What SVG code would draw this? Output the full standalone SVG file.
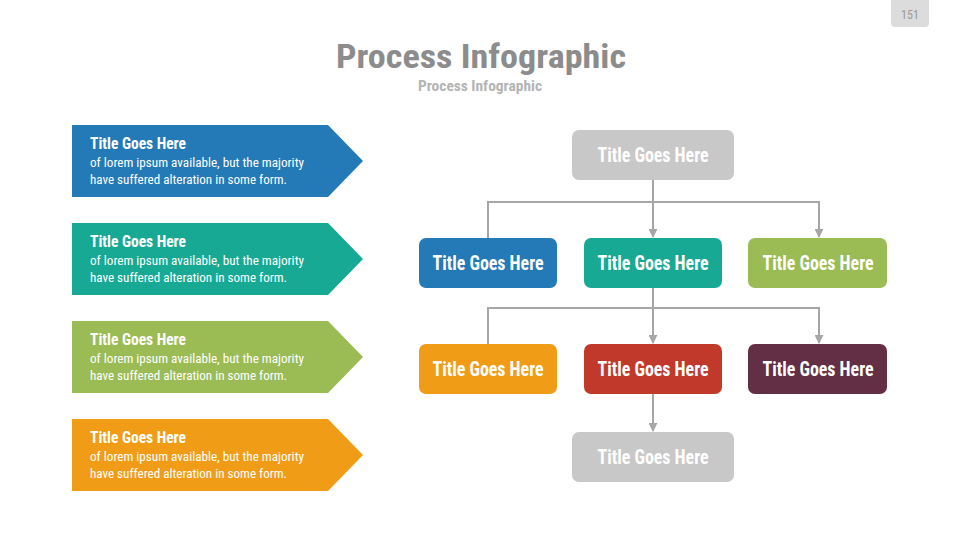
<svg xmlns="http://www.w3.org/2000/svg" width="960" height="540" viewBox="0 0 960 540">
<style>
text{font-family:"Roboto Condensed",Roboto,"Liberation Sans",sans-serif}
.nt{font-size:20px;font-weight:bold;fill:#fff;text-anchor:middle}
.at{font-size:16px;font-weight:bold;fill:#fff}
.ab{font-size:12.5px;fill:#fff}
.cn{stroke:#a6a6a6;stroke-width:2;fill:none}
</style>
<defs>
<marker id="ah" viewBox="0 0 10 10" refX="9" refY="5" markerWidth="4.5" markerHeight="4.5" orient="auto" markerUnits="strokeWidth">
<path d="M0,0 L10,5 L0,10 z" fill="#a6a6a6"/>
</marker>
</defs>
<rect width="960" height="540" fill="#fff"/>
<g id="page">
<rect x="891" y="-4" width="38" height="31" rx="4" fill="#dcdcdc"/>
<text x="910" y="19" font-size="12" fill="#999" text-anchor="middle">151</text>
</g>
<g id="header">
<text x="481" y="68" font-size="34" font-weight="bold" fill="#8c8c8c" text-anchor="middle" textLength="290" lengthAdjust="spacingAndGlyphs">Process Infographic</text>
<text x="480" y="91" font-size="15" font-weight="bold" fill="#b4b4b4" text-anchor="middle" textLength="124" lengthAdjust="spacingAndGlyphs">Process Infographic</text>
</g>
<g id="arrow1">
<path d="M72,125 H328 L363,161 L328,197 H72 Z" fill="#2479b7"/>
<text class="at" x="90" y="149" textLength="96" lengthAdjust="spacingAndGlyphs">Title Goes Here</text>
<text class="ab" x="90" y="167" textLength="214" lengthAdjust="spacingAndGlyphs">of lorem ipsum available, but the majority</text>
<text class="ab" x="90" y="184" textLength="197" lengthAdjust="spacingAndGlyphs">have suffered alteration in some form.</text>
</g>
<g id="arrow2">
<path d="M72,223 H328 L363,259 L328,295 H72 Z" fill="#17a994"/>
<text class="at" x="90" y="247" textLength="96" lengthAdjust="spacingAndGlyphs">Title Goes Here</text>
<text class="ab" x="90" y="265" textLength="214" lengthAdjust="spacingAndGlyphs">of lorem ipsum available, but the majority</text>
<text class="ab" x="90" y="282" textLength="197" lengthAdjust="spacingAndGlyphs">have suffered alteration in some form.</text>
</g>
<g id="arrow3">
<path d="M72,321 H328 L363,357 L328,393 H72 Z" fill="#9bbb55"/>
<text class="at" x="90" y="345" textLength="96" lengthAdjust="spacingAndGlyphs">Title Goes Here</text>
<text class="ab" x="90" y="363" textLength="214" lengthAdjust="spacingAndGlyphs">of lorem ipsum available, but the majority</text>
<text class="ab" x="90" y="380" textLength="197" lengthAdjust="spacingAndGlyphs">have suffered alteration in some form.</text>
</g>
<g id="arrow4">
<path d="M72,419 H328 L363,455 L328,491 H72 Z" fill="#f09c16"/>
<text class="at" x="90" y="443" textLength="96" lengthAdjust="spacingAndGlyphs">Title Goes Here</text>
<text class="ab" x="90" y="461" textLength="214" lengthAdjust="spacingAndGlyphs">of lorem ipsum available, but the majority</text>
<text class="ab" x="90" y="478" textLength="197" lengthAdjust="spacingAndGlyphs">have suffered alteration in some form.</text>
</g>
<g id="connectors">
<path class="cn" d="M653,180 V237" marker-end="url(#ah)"/>
<path class="cn" d="M488,238 V202 H819 V237" marker-end="url(#ah)"/>
<path class="cn" d="M653,288 V343" marker-end="url(#ah)"/>
<path class="cn" d="M488,344 V308 H819 V343" marker-end="url(#ah)"/>
<path class="cn" d="M653,394 V431" marker-end="url(#ah)"/>
</g>
<g id="n-top">
<rect x="572" y="130" width="162" height="50" rx="7" fill="#c8c8c8"/>
<text class="nt" x="653" y="162" textLength="111" lengthAdjust="spacingAndGlyphs">Title Goes Here</text>
</g>
<g id="n-blue">
<rect x="419" y="238" width="138" height="50" rx="7" fill="#2479b7"/>
<text class="nt" x="488" y="270" textLength="111" lengthAdjust="spacingAndGlyphs">Title Goes Here</text>
</g>
<g id="n-teal">
<rect x="584" y="238" width="138" height="50" rx="7" fill="#17a994"/>
<text class="nt" x="653" y="270" textLength="111" lengthAdjust="spacingAndGlyphs">Title Goes Here</text>
</g>
<g id="n-green">
<rect x="748" y="238" width="139" height="50" rx="7" fill="#9bbb55"/>
<text class="nt" x="818" y="270" textLength="111" lengthAdjust="spacingAndGlyphs">Title Goes Here</text>
</g>
<g id="n-orange">
<rect x="419" y="344" width="138" height="50" rx="7" fill="#f09c16"/>
<text class="nt" x="488" y="376" textLength="111" lengthAdjust="spacingAndGlyphs">Title Goes Here</text>
</g>
<g id="n-red">
<rect x="584" y="344" width="138" height="50" rx="7" fill="#c0392b"/>
<text class="nt" x="653" y="376" textLength="111" lengthAdjust="spacingAndGlyphs">Title Goes Here</text>
</g>
<g id="n-purple">
<rect x="748" y="344" width="139" height="50" rx="7" fill="#622f45"/>
<text class="nt" x="818" y="376" textLength="111" lengthAdjust="spacingAndGlyphs">Title Goes Here</text>
</g>
<g id="n-bottom">
<rect x="572" y="432" width="162" height="50" rx="7" fill="#c8c8c8"/>
<text class="nt" x="653" y="464" textLength="111" lengthAdjust="spacingAndGlyphs">Title Goes Here</text>
</g>
</svg>
